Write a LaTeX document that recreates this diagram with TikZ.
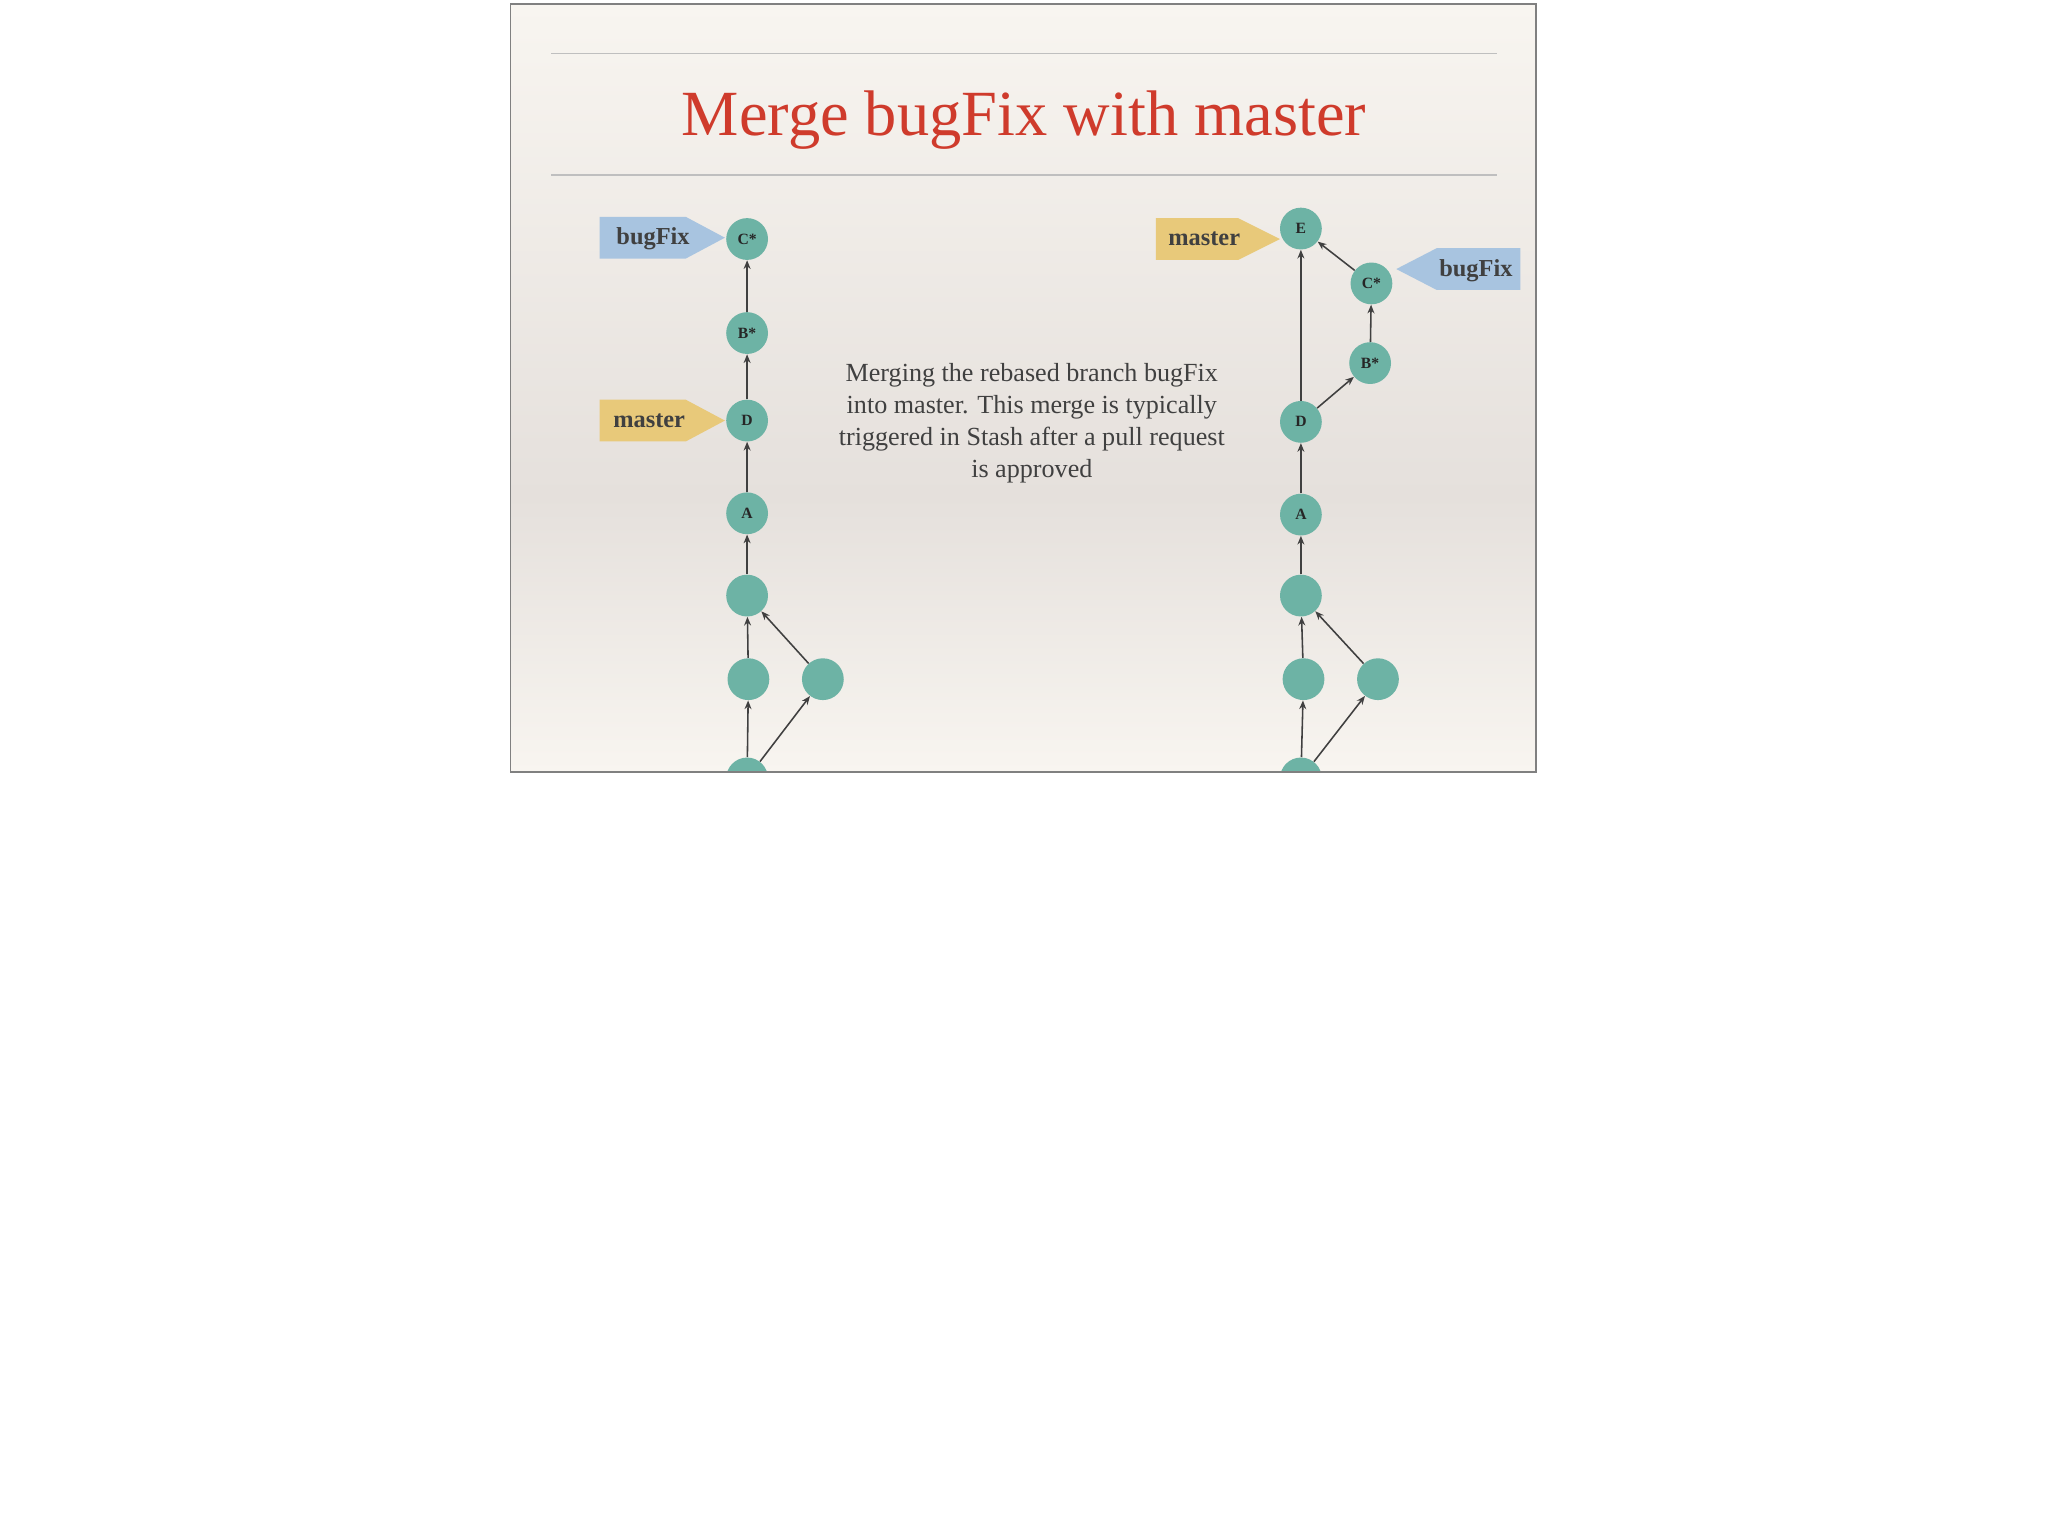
\documentclass[tikz,border=0pt]{standalone}
\usepackage{fontspec}
\setmainfont{Liberation Serif}
\usetikzlibrary{arrows.meta,shapes.arrows}
\definecolor{teal1}{HTML}{6DB3A5}
\definecolor{tagblue}{HTML}{A8C4E0}
\definecolor{tagyel}{HTML}{E8C97A}
\definecolor{titlered}{HTML}{CF3B2C}
\definecolor{bgA}{HTML}{F8F5F0}
\definecolor{bgB}{HTML}{E5E0DC}
\tikzset{
 cnode/.style={circle,fill=teal1,minimum size=24pt,inner sep=0pt,font=\bfseries\fontsize{9}{9}\selectfont,text=black!85},
 link/.style={-{Stealth[length=5pt,width=4pt]},draw=black!75,line width=0.9pt},
 tagtxt/.style={font=\bfseries\fontsize{14}{14}\selectfont,text=black!75}
}
\begin{document}
\begin{tikzpicture}[x=0.75pt,y=-0.75pt]
\useasboundingbox (0,0) rectangle (1568,1169);
\fill[white] (0,0) rectangle (1568,1169);
\shade[top color=bgA,bottom color=bgB] (391,3) rectangle (1176,380);
\shade[top color=bgB,bottom color=bgA] (391,380) rectangle (1176,591);
\draw[black!25,line width=0.6pt] (422,41) -- (1146,41);
\draw[black!25,line width=0.6pt] (422,134) -- (1146,134);
\node[font=\fontsize{37}{37}\selectfont,text=titlered] (title) at (784,92) {Merge bugFix with master};
\node[align=center,font=\fontsize{15}{18.4}\selectfont,text=black!75] (desc) at (790,324)
 {Merging the rebased branch bugFix\\into master. This merge is typically\\triggered in Stash after a pull request\\is approved};
\begin{scope}
\clip (391,3) rectangle (1176,591);
% left
\node[cnode] (lC) at (572,183) {C*};
\node[cnode] (lB) at (572,255) {B*};
\node[cnode] (lD) at (572,322) {D};
\node[cnode] (lA) at (572,393) {A};
\node[cnode] (l1) at (572,456) {};
\node[cnode] (l2) at (573,520) {};
\node[cnode] (l3) at (630,520) {};
\node[cnode] (l0) at (572,596) {};
\draw[link] (lB) -- (lC);
\draw[link] (lD) -- (lB);
\draw[link] (lA) -- (lD);
\draw[link] (l1) -- (lA);
\draw[link] (l2) -- (l1);
\draw[link] (l3) -- (l1);
\draw[link] (l0) -- (l2);
\draw[link] (l0) -- (l3);
\fill[tagblue] (459,166) -- (525,166) -- (555,182) -- (525,198) -- (459,198) -- cycle;
\node[tagtxt] (tb1) at (500,183) {bugFix};
\fill[tagyel] (459,306) -- (525,306) -- (555,322) -- (525,338) -- (459,338) -- cycle;
\node[tagtxt] (tm1) at (497,322) {master};
% right
\node[cnode] (rE) at (996,175) {E};
\node[cnode] (rC) at (1050,217) {C*};
\node[cnode] (rB) at (1049,278) {B*};
\node[cnode] (rD) at (996,323) {D};
\node[cnode] (rA) at (996,394) {A};
\node[cnode] (r1) at (996,456) {};
\node[cnode] (r2) at (998,520) {};
\node[cnode] (r3) at (1055,520) {};
\node[cnode] (r0) at (996,596) {};
\draw[link] (rD) -- (rE);
\draw[link] (rC) -- (rE);
\draw[link] (rB) -- (rC);
\draw[link] (rD) -- (rB);
\draw[link] (rA) -- (rD);
\draw[link] (r1) -- (rA);
\draw[link] (r2) -- (r1);
\draw[link] (r3) -- (r1);
\draw[link] (r0) -- (r2);
\draw[link] (r0) -- (r3);
\fill[tagyel] (885,167) -- (948,167) -- (980,183) -- (948,199) -- (885,199) -- cycle;
\node[tagtxt] (tm2) at (922,183) {master};
\fill[tagblue] (1164,190) -- (1100,190) -- (1069,206) -- (1100,222) -- (1164,222) -- cycle;
\node[tagtxt] (tb2) at (1130,207) {bugFix};
\end{scope}
\draw[black!50,line width=0.7pt] (391,3) rectangle (1176,591);
\end{tikzpicture}
\end{document}
